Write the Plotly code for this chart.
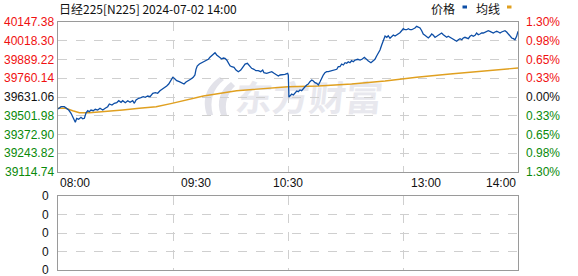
import base64
import plotly.graph_objects as go

# ---------------- data ----------------
prev_close = 39631.06
y_ticks = [40147.38, 40018.30, 39889.22, 39760.14, 39631.06, 39501.98, 39372.90, 39243.82, 39114.74]
pct_labels = ["1.30%", "0.98%", "0.65%", "0.33%", "0.00%", "0.33%", "0.65%", "0.98%", "1.30%"]
x_label_pos = [0, 90, 150, 240, 300]
x_labels = ["08:00", "09:30", "10:30", "13:00", "14:00"]
vol_labels = ["0", "0", "0", "0", "0"]

price_min = [0, 2.0, 4.1, 5.2, 7.0, 8.5, 9.6, 10.6, 11.3, 12.2, 13.5, 15.0, 16.1, 17.2, 18.3, 19.4, 20.4, 21.5,
             23.0, 24.3, 25.9, 27.4, 29.2, 30.8, 32.4, 33.5, 35.2, 36.7, 38.3, 39.6, 41.1, 42.2, 43.9, 45.5, 47.0,
             48.7, 49.8, 50.9, 52.6, 54.1, 55.6, 56.9, 58.5, 60.0, 61.8, 63.5, 65.0, 66.5, 67.8, 69.3, 70.9, 72.2,
             73.7, 74.8, 75.8, 77.4, 79.1, 80.7, 82.2, 83.5, 85.0, 86.5, 88.2, 89.3, 90.0, 90.8, 92.2, 93.7, 94.8,
             96.5, 98.0, 99.1, 100.2, 101.3, 102.4, 103.5, 104.5, 105.7, 106.8, 107.8, 108.9, 110.0, 111.1, 112.2,
             113.3, 114.8, 116.1, 117.6, 119.2, 120.5, 122.0, 123.5, 124.8, 126.3, 127.8, 129.1, 130.6, 132.2,
             133.5, 134.3, 136.1, 137.8, 139.4, 140.9, 142.2, 143.7, 144.8, 146.5, 148.0, 149.8, 150.2, 150.6,
             151.5, 152.4, 153.5, 154.6, 155.7, 156.7, 157.8, 158.9, 160.0, 161.1, 162.2, 163.2, 164.3, 165.5,
             166.5, 167.6, 168.7, 169.8, 170.9, 172.0, 173.0, 174.1, 175.2, 176.3, 178.5, 180.2, 181.8, 182.8,
             183.9, 185.0, 186.1, 187.2, 188.3, 189.3, 190.4, 191.5, 192.6, 193.7, 195.5, 197.0, 198.5, 199.8,
             200.9, 202.4, 204.1, 205.6, 206.7, 207.8, 208.9, 210.0, 211.1, 212.2, 213.3, 214.4, 215.4, 216.5,
             217.6, 218.7, 219.8, 220.9, 221.9, 223.0, 224.1, 225.2, 226.3, 227.4, 228.5, 229.6, 230.7, 231.7,
             232.8, 233.9, 235.0, 236.1, 237.2, 238.2, 239.3, 240.5, 241.5, 242.6, 243.7, 244.8, 245.9, 247.0,
             248.0, 249.1, 250.2, 251.3, 252.4, 253.5, 254.5, 255.7, 256.8, 257.8, 258.9, 260.0, 261.1, 262.2,
             263.3, 264.3, 265.4, 266.5, 267.6, 268.7, 269.8, 270.8, 272.0, 273.0, 274.1, 275.2, 276.3, 277.4,
             278.5, 279.6, 280.6, 281.7, 282.8, 283.9, 285.0, 286.1, 287.2, 288.3, 289.3, 290.4, 291.5, 292.6,
             293.7, 294.8, 295.9, 297.0, 298.0, 299.1, 300.0]
price_val = [39548.4, 39564.2, 39564.2, 39553.2, 39541.5, 39518.8, 39495.4, 39472.7, 39456.8, 39484.4, 39477.5,
             39491.3, 39481.6, 39484.4, 39522.9, 39536.7, 39529.8, 39541.5, 39536.7, 39546.3, 39541.5, 39553.2,
             39541.5, 39553.2, 39564.2, 39582.8, 39575.9, 39587.6, 39591.8, 39605.6, 39594.5, 39605.6, 39591.8,
             39605.6, 39594.5, 39605.6, 39587.6, 39610.4, 39622.1, 39626.2, 39633.1, 39629.0, 39637.9, 39633.1,
             39656.5, 39660.6, 39656.5, 39674.4, 39684.0, 39690.9, 39706.8, 39720.5, 39743.2, 39766.6, 39759.8,
             39743.2, 39736.4, 39729.5, 39720.5, 39734.3, 39741.2, 39752.9, 39766.6, 39782.5, 39821.7, 39844.4,
             39858.2, 39867.2, 39874.0, 39880.9, 39890.6, 39904.3, 39913.3, 39927.0, 39936.0, 39920.2, 39913.3,
             39901.6, 39892.6, 39899.5, 39897.4, 39885.7, 39863.0, 39846.5, 39839.6, 39835.5, 39816.9, 39805.2,
             39816.9, 39839.6, 39858.2, 39863.0, 39846.5, 39828.6, 39821.7, 39812.1, 39812.1, 39805.2, 39816.9,
             39798.3, 39794.2, 39798.3, 39805.2, 39794.2, 39782.5, 39775.6, 39782.5, 39782.5, 39787.3, 39794.2,
             39782.5, 39630.0, 39640.0, 39651.7, 39644.8, 39660.6, 39672.3, 39667.5, 39679.2, 39674.4, 39690.9,
             39701.9, 39713.6, 39720.5, 39736.4, 39748.1, 39741.2, 39729.5, 39725.3, 39713.6, 39736.4, 39766.6,
             39782.5, 39798.3, 39805.2, 39805.2, 39812.1, 39816.9, 39821.7, 39839.6, 39839.6, 39858.2, 39851.3,
             39867.2, 39863.0, 39874.0, 39867.2, 39880.9, 39874.0, 39885.7, 39890.6, 39885.7, 39892.6, 39904.3,
             39890.6, 39878.9, 39867.2, 39880.9, 39890.6, 39913.3, 39931.9, 39954.6, 39989.0, 40028.2, 40051.0,
             40042.0, 40053.0, 40035.1, 40046.1, 40057.8, 40051.0, 40057.8, 40069.6, 40073.7, 40087.4, 40101.2,
             40094.3, 40094.3, 40101.2, 40094.3, 40094.3, 40099.2, 40106.0, 40117.7, 40110.9, 40106.0, 40087.4,
             40064.7, 40055.8, 40048.9, 40037.2, 40048.9, 40064.7, 40055.8, 40042.0, 40048.9, 40055.8, 40064.7,
             40071.6, 40059.9, 40048.9, 40042.0, 40048.9, 40042.0, 40037.2, 40032.4, 40025.5, 40014.5, 40025.5,
             40032.4, 40025.5, 40037.2, 40042.0, 40037.2, 40032.4, 40048.9, 40055.8, 40048.9, 40055.8, 40071.6,
             40059.9, 40064.7, 40071.6, 40071.6, 40078.5, 40083.3, 40087.4, 40083.3, 40078.5, 40071.6, 40078.5,
             40083.3, 40078.5, 40071.6, 40078.5, 40083.3, 40087.4, 40078.5, 40064.7, 40048.9, 40037.2, 40032.4,
             40025.5, 40048.9, 40083.3]

avg_min = [0, 5, 9.6, 14, 20.4, 31.3, 42.2, 53, 64, 74.3, 94.8, 116.5, 138.3, 150, 169.8, 191.5, 213.3, 225.2,
           233.9, 255.7, 277.4, 300]
avg_val = [39553.2, 39553.2, 39536.7, 39522.9, 39522.9, 39529.8, 39541.5, 39553.2, 39564.2, 39587.6, 39637.9,
           39674.4, 39690.9, 39701.9, 39706.8, 39720.5, 39741.2, 39752.9, 39766.6, 39789.4, 39812.1, 39830.7]

# ---------------- layout geometry ----------------
W, H = 578, 276
ML, MR, MT, MB = 58, 60, 22, 6
PW, PH = W - ML - MR, H - MT - MB


def px_x(px):
    return (px - ML) / PW


def px_y(py):
    return (H - MB - py) / PH


RED, GREEN, BLACK = "#f01010", "#0a8a0a", "#111111"
BLUE, ORANGE = "#0d4ea6", "#e0a020"
GRID = "#cfcfcf"
BORDER = "#9a9a9a"
NUM_FONT = "Liberation Sans"
CJK_FONT = "Noto Sans CJK SC"

fig = go.Figure()
fig.add_trace(go.Scatter(x=avg_min, y=avg_val, mode="lines", line=dict(color=ORANGE, width=1.4),
                         hoverinfo="skip", showlegend=False, xaxis="x", yaxis="y"))
fig.add_trace(go.Scatter(x=price_min, y=price_val, mode="lines", line=dict(color=BLUE, width=1.3),
                         hoverinfo="skip", showlegend=False, xaxis="x", yaxis="y"))
fig.add_trace(go.Scatter(x=[0, 300], y=[None, None], mode="lines", showlegend=False,
                         xaxis="x2", yaxis="y2", hoverinfo="skip"))

axis_common = dict(showline=True, mirror=True, linecolor=BORDER, linewidth=1, zeroline=False,
                   showgrid=True, gridcolor=GRID, griddash="dash", gridwidth=1,
                   showticklabels=False, ticks="", fixedrange=True)

y_main_domain = [px_y(172), 1.0]
y_vol_domain = [0.0, px_y(196)]

fig.update_layout(
    width=W, height=H, margin=dict(l=ML, r=MR, t=MT, b=MB),
    paper_bgcolor="white", plot_bgcolor="white",
    xaxis=dict(range=[0, 300], tickvals=[75, 150, 225], anchor="y", **axis_common),
    yaxis=dict(range=[y_ticks[-1], y_ticks[0]], tickvals=y_ticks[1:-1], domain=y_main_domain,
               anchor="x", **axis_common),
    xaxis2=dict(range=[0, 300], tickvals=[75, 150, 225], anchor="y2", **axis_common),
    yaxis2=dict(range=[0, 4], tickvals=[1, 2, 3], domain=y_vol_domain, anchor="x2", **axis_common),
)

annotations = []
# left price labels and right percent labels
for v, p in zip(y_ticks, pct_labels):
    col = RED if v > prev_close + 1e-6 else (GREEN if v < prev_close - 1e-6 else BLACK)
    annotations.append(dict(x=0, xref="paper", y=v, yref="y", text=f"{v:.2f}", showarrow=False,
                            xanchor="right", yanchor="middle", xshift=-2,
                            font=dict(family=NUM_FONT, size=12, color=col)))
    annotations.append(dict(x=1, xref="paper", y=v, yref="y", text=p, showarrow=False,
                            xanchor="left", yanchor="middle", xshift=6,
                            font=dict(family=NUM_FONT, size=12, color=col)))
# volume labels
for i, t in enumerate(vol_labels):
    annotations.append(dict(x=0, xref="paper", y=4 - i, yref="y2", text=t, showarrow=False,
                            xanchor="right", yanchor="middle", xshift=-7,
                            font=dict(family=NUM_FONT, size=12, color=BLACK)))
# time labels
for i, (pos, t) in enumerate(zip(x_label_pos, x_labels)):
    anchor = "left" if i == 0 else ("right" if i == len(x_labels) - 1 else "center")
    annotations.append(dict(x=pos, xref="x", y=px_y(183), yref="paper", text=t, showarrow=False,
                            xanchor=anchor, yanchor="middle",
                            font=dict(family=NUM_FONT, size=12, color=BLACK)))
# title
annotations.append(dict(x=0, xref="paper", y=px_y(9), yref="paper",
                        text="日经225[N225] 2024-07-02 14:00", showarrow=False,
                        xanchor="left", yanchor="middle", xshift=-1,
                        font=dict(family=CJK_FONT, size=12, color=BLACK)))
# legend texts
annotations.append(dict(x=px_x(443), xref="paper", y=px_y(9), yref="paper", text="价格", showarrow=False,
                        xanchor="center", yanchor="middle", font=dict(family=CJK_FONT, size=12, color=BLACK)))
annotations.append(dict(x=px_x(487.5), xref="paper", y=px_y(9), yref="paper", text="均线", showarrow=False,
                        xanchor="center", yanchor="middle", font=dict(family=CJK_FONT, size=12, color=BLACK)))
fig.update_layout(annotations=annotations)

shapes = [
    dict(type="rect", xref="paper", yref="paper", x0=px_x(462.5), x1=px_x(467), y0=px_y(8.5), y1=px_y(5.5),
         line=dict(width=0), fillcolor=BLUE),
    dict(type="rect", xref="paper", yref="paper", x0=px_x(507), x1=px_x(511.5), y0=px_y(8.5), y1=px_y(5.5),
         line=dict(width=0), fillcolor=ORANGE),
]
fig.update_layout(shapes=shapes)

# watermark (logo + text) as background SVG image
svg = (
    '<svg xmlns="http://www.w3.org/2000/svg" width="184" height="40" viewBox="0 0 184 40">'
    '<path d="M22 1 C10 9 3 22 9 39 L15 39 C11 25 15 12 26 4 Z" fill="#e2e2e9"/>'
    '<path d="M33 6 C22 14 18 26 23 39 L29 39 C26 28 29 18 37 10 Z" fill="#e2e2e9"/>'
    '<g transform="translate(40,0) scale(1.15,1.1) skewX(-6)">'
    '<text x="0" y="32" font-family="Noto Sans CJK SC" font-weight="700" font-size="32" '
    'fill="#e8e8ee">东方财富</text></g></svg>'
)
src = "data:image/svg+xml;base64," + base64.b64encode(svg.encode("utf-8")).decode("ascii")
fig.add_layout_image(dict(source=src, xref="paper", yref="paper", x=px_x(198), y=px_y(76),
                          sizex=184 / PW, sizey=40 / PH, xanchor="left", yanchor="top",
                          sizing="stretch", layer="below"))

fig.write_html("out.html", config={"displayModeBar": False})
